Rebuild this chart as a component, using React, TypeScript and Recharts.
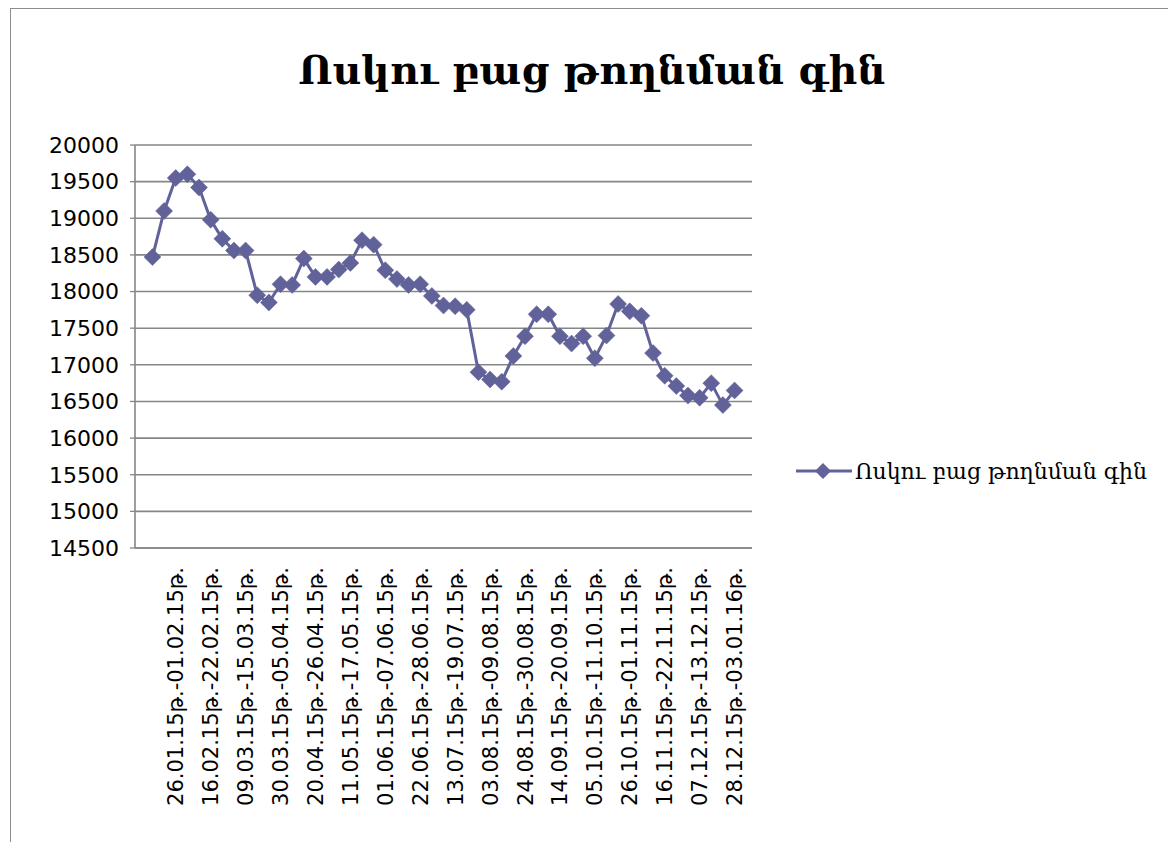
import React from "react";
import { LineChart, Line, XAxis, YAxis, CartesianGrid, Legend } from "recharts";

const chartTitle = "Ոսկու բաց թողնման գին";
const seriesName = "Ոսկու բաց թողնման գին";

const categories = [
  "",
  "12.01.15թ.-18.01.15թ.", "19.01.15թ.-25.01.15թ.", "26.01.15թ.-01.02.15թ.", "02.02.15թ.-08.02.15թ.",
  "09.02.15թ.-15.02.15թ.", "16.02.15թ.-22.02.15թ.", "23.02.15թ.-01.03.15թ.", "02.03.15թ.-08.03.15թ.",
  "09.03.15թ.-15.03.15թ.", "16.03.15թ.-22.03.15թ.", "23.03.15թ.-29.03.15թ.", "30.03.15թ.-05.04.15թ.",
  "06.04.15թ.-12.04.15թ.", "13.04.15թ.-19.04.15թ.", "20.04.15թ.-26.04.15թ.", "27.04.15թ.-03.05.15թ.",
  "04.05.15թ.-10.05.15թ.", "11.05.15թ.-17.05.15թ.", "18.05.15թ.-24.05.15թ.", "25.05.15թ.-31.05.15թ.",
  "01.06.15թ.-07.06.15թ.", "08.06.15թ.-14.06.15թ.", "15.06.15թ.-21.06.15թ.", "22.06.15թ.-28.06.15թ.",
  "29.06.15թ.-05.07.15թ.", "06.07.15թ.-12.07.15թ.", "13.07.15թ.-19.07.15թ.", "20.07.15թ.-26.07.15թ.",
  "27.07.15թ.-02.08.15թ.", "03.08.15թ.-09.08.15թ.", "10.08.15թ.-16.08.15թ.", "17.08.15թ.-23.08.15թ.",
  "24.08.15թ.-30.08.15թ.", "31.08.15թ.-06.09.15թ.", "07.09.15թ.-13.09.15թ.", "14.09.15թ.-20.09.15թ.",
  "21.09.15թ.-27.09.15թ.", "28.09.15թ.-04.10.15թ.", "05.10.15թ.-11.10.15թ.", "12.10.15թ.-18.10.15թ.",
  "19.10.15թ.-25.10.15թ.", "26.10.15թ.-01.11.15թ.", "02.11.15թ.-08.11.15թ.", "09.11.15թ.-15.11.15թ.",
  "16.11.15թ.-22.11.15թ.", "23.11.15թ.-29.11.15թ.", "30.11.15թ.-06.12.15թ.", "07.12.15թ.-13.12.15թ.",
  "14.12.15թ.-20.12.15թ.", "21.12.15թ.-27.12.15թ.", "28.12.15թ.-03.01.16թ.",
  "",
];

const prices: (number | null)[] = [
  null,
  18470, 19100, 19550, 19600, 19420, 18980, 18720, 18560, 18560, 17950,
  17850, 18100, 18090, 18450, 18200, 18200, 18300, 18390, 18700, 18640,
  18290, 18170, 18090, 18100, 17940, 17810, 17800, 17750, 16900, 16800,
  16770, 17120, 17390, 17690, 17690, 17390, 17290, 17390, 17090, 17400,
  17830, 17730, 17670, 17160, 16850, 16710, 16580, 16550, 16750, 16450,
  16650,
  null,
];

const yTicks = [14500, 15000, 15500, 16000, 16500, 17000, 17500, 18000, 18500, 19000, 19500, 20000];
const labelStep = 3;

const COLOR = "#62629a";
const GRID = "#868686";
const SANS = "'DejaVu Sans', Verdana, sans-serif";
const SERIF = "'DejaVu Serif', serif";

const data = categories.map((label, i) => ({ pos: i + 0.5, label, price: prices[i] }));
const boundaryTicks = Array.from({ length: categories.length + 1 }, (_, i) => i);
const labelTicks = data.filter((d, i) => i % labelStep === 0 && d.label !== "").map((d) => d.pos);

const Diamond = (props: any) => {
  const { cx, cy, value, index } = props;
  if (value == null || cx == null || cy == null) return <g key={`d-${index}`} />;
  const r = 8.5;
  return (
    <path
      key={`d-${index}`}
      d={`M${cx},${cy - r} L${cx + r},${cy} L${cx},${cy + r} L${cx - r},${cy} Z`}
      fill={COLOR}
      stroke={COLOR}
      strokeWidth={0.5}
    />
  );
};

const LabelTick = (props: any) => {
  const { x, y, payload } = props;
  const idx = Math.floor(payload.value);
  return (
    <g transform={`translate(${x},${y})`}>
      <text transform="rotate(-90)" textAnchor="end" dy="0.36em" fontFamily={SANS} fontSize={21} fill="#000">
        {categories[idx]}
      </text>
    </g>
  );
};

const LegendContent = () => (
  <div style={{ display: "flex", alignItems: "center", whiteSpace: "nowrap" }}>
    <svg width={60} height={26} style={{ display: "block" }}>
      <line x1={2} y1={13} x2={58} y2={13} stroke={COLOR} strokeWidth={3} />
      <path d="M29,5 L37,13 L29,21 L21,13 Z" fill={COLOR} />
    </svg>
    <span style={{ fontFamily: SERIF, fontSize: 22, color: "#000", marginLeft: 1 }}>{seriesName}</span>
  </div>
);

export default function App() {
  return (
    <div style={{ position: "relative", width: 1168, height: 834, overflow: "hidden", background: "#fff" }}>
      <div
        style={{
          position: "absolute",
          left: 2,
          top: 0,
          width: 1200,
          height: 900,
          border: "1px solid #8c8c8c",
          boxSizing: "border-box",
        }}
      />
      <div
        style={{
          position: "absolute",
          left: 0,
          width: 1168,
          top: 37,
          textAlign: "center",
          fontFamily: SERIF,
          fontWeight: "bold",
          fontSize: 39.5,
          lineHeight: "50px",
          color: "#000",
        }}
      >
        {chartTitle}
      </div>
      <div style={{ position: "absolute", left: 0, top: 0 }}>
        <LineChart width={1168} height={834} data={data} margin={{ top: 137, right: 424, bottom: 25, left: 0 }}>
          <CartesianGrid xAxisId="a_marks" vertical={false} stroke={GRID} strokeWidth={1.6} />
          <XAxis
            xAxisId="a_marks"
            type="number"
            dataKey="pos"
            domain={[0, categories.length]}
            ticks={boundaryTicks}
            interval={0}
            tick={false}
            tickSize={6}
            height={19}
            axisLine={{ stroke: GRID, strokeWidth: 1.6 }}
            tickLine={{ stroke: GRID, strokeWidth: 1.3 }}
          />
          <XAxis
            xAxisId="b_labels"
            type="number"
            dataKey="pos"
            domain={[0, categories.length]}
            ticks={labelTicks}
            interval={0}
            tick={<LabelTick />}
            tickSize={0}
            tickMargin={0}
            height={250}
            axisLine={false}
            tickLine={false}
          />
          <YAxis
            type="number"
            domain={[14500, 20000]}
            ticks={yTicks}
            interval={0}
            width={127}
            tickSize={5}
            tickMargin={11}
            axisLine={{ stroke: GRID, strokeWidth: 1.6 }}
            tickLine={{ stroke: GRID, strokeWidth: 1.3 }}
            tick={{ fontFamily: SANS, fontSize: 22, fill: "#000" }}
          />
          <Legend
            layout="horizontal"
            verticalAlign="middle"
            align="center"
            content={<LegendContent />}
            wrapperStyle={{ position: "absolute", left: 786, top: 450, width: 380, height: 26 }}
          />
          <Line
            xAxisId="a_marks"
            type="linear"
            dataKey="price"
            name={seriesName}
            stroke={COLOR}
            strokeWidth={3}
            dot={<Diamond />}
            activeDot={false}
            isAnimationActive={false}
          />
        </LineChart>
      </div>
    </div>
  );
}
